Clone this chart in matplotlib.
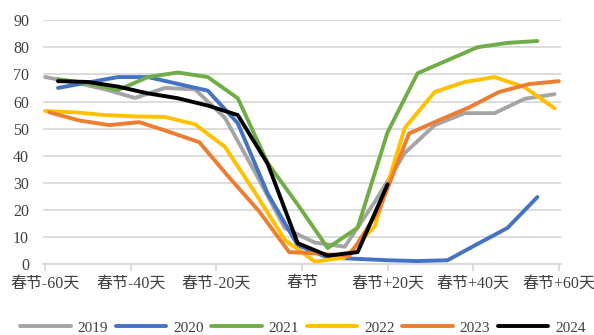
import matplotlib
matplotlib.use('Agg')
import matplotlib.pyplot as plt

# Días respecto al Año Nuevo Chino (datos semanales) y valores por año
dias_2019 = [-60, -53, -46, -39, -32, -25, -18, -11, -4, 3, 10, 17, 24, 31, 38, 45, 52, 59]
valores_2019 = [69, 67, 64.5, 61.3, 65, 64.5, 54, 34, 13.3, 8, 6.5, 23, 41, 51.3, 55.7, 55.7, 61, 62.7]

dias_2020 = [-57, -50, -43, -36, -29, -22, -15, -8, -1, 6, 13, 20, 27, 34, 41, 48, 55]
valores_2020 = [65, 67, 69, 69, 66.5, 64, 52, 26, 7, 2.5, 2, 1.5, 1.2, 1.5, 7.5, 13.4, 24.8]

dias_2021 = [-57, -50, -43, -36, -29, -22, -15, -8, -1, 6, 13, 20, 27, 34, 41, 48, 55]
valores_2021 = [68.2, 66.7, 64.2, 69, 70.7, 69, 61.2, 37.3, 22, 6, 13.5, 48.7, 70.4, 75.2, 80, 81.6, 82.3]

dias_2022 = [-60, -53, -46, -39, -32, -25, -18, -11, -4, 3, 10, 17, 24, 31, 38, 45, 52, 59]
valores_2022 = [56.5, 56, 55, 54.5, 54.3, 51.6, 43.3, 26.5, 9, 1, 2.5, 14, 50.2, 63.5, 67.2, 69, 65.3, 57.5]

dias_2023 = [-59, -52, -45, -38, -31, -24, -17, -10, -3, 4, 11, 18, 25, 32, 39, 46, 53, 60]
valores_2023 = [56, 53, 51.3, 52.4, 48.8, 45, 32, 19.5, 4.5, 4, 3, 20, 48.2, 53.1, 57.8, 63.5, 66.4, 67.5]

dias_2024 = [-57, -50, -43, -36, -29, -22, -15, -8, -1, 6, 13, 20]
valores_2024 = [67.5, 67.2, 65.5, 63, 61.2, 58.5, 55, 37, 7.8, 3.2, 4.5, 29.5]

posiciones_ticks = [-60, -40, -20, 0, 20, 40, 60]
etiquetas_ticks = ['春节-60天', '春节-40天', '春节-20天', '春节', '春节+20天', '春节+40天', '春节+60天']

series = [
    ('2019', dias_2019, valores_2019, '#a5a5a5'),
    ('2020', dias_2020, valores_2020, '#4472c4'),
    ('2021', dias_2021, valores_2021, '#70ad47'),
    ('2022', dias_2022, valores_2022, '#ffc000'),
    ('2023', dias_2023, valores_2023, '#ed7d31'),
    ('2024', dias_2024, valores_2024, '#000000'),
]

plt.rcParams['font.family'] = ['Liberation Serif', 'Noto Sans CJK SC']
plt.rcParams['font.size'] = 11.5

fig = plt.figure(figsize=(5.94, 3.35), dpi=100)
ax = fig.add_axes([0.0724, 0.211, 0.872, 0.729])

for nombre, dias, valores, color in series:
    ax.plot(dias, valores, color=color, lw=2.8, label=nombre, solid_capstyle='round')

ax.set_xlim(-60.5, 60.5)
ax.set_ylim(0, 90)
ax.set_yticks(range(0, 91, 10))
ax.set_xticks(posiciones_ticks)
ax.set_xticklabels(etiquetas_ticks)

# Cuadrícula horizontal y ejes al estilo Excel
ax.grid(axis='y', color='#d9d9d9', lw=1.3)
ax.set_axisbelow(True)
for lado in ['top', 'right', 'left']:
    ax.spines[lado].set_visible(False)
ax.spines['bottom'].set_color('#d9d9d9')
ax.spines['bottom'].set_linewidth(1.3)
ax.tick_params(axis='x', length=5, color='#d9d9d9', width=1.3, pad=3)
ax.tick_params(axis='y', length=0, pad=10)
for t in ax.get_xticklabels() + ax.get_yticklabels():
    t.set_color('#404040')

leyenda = fig.legend(loc='lower center', bbox_to_anchor=(0.51, -0.04), ncol=6, frameon=False,
                     handlelength=3.3, handletextpad=0.45, columnspacing=0.5, fontsize=11)
for t in leyenda.get_texts():
    t.set_color('#404040')

fig.savefig('out.png', dpi=100)
